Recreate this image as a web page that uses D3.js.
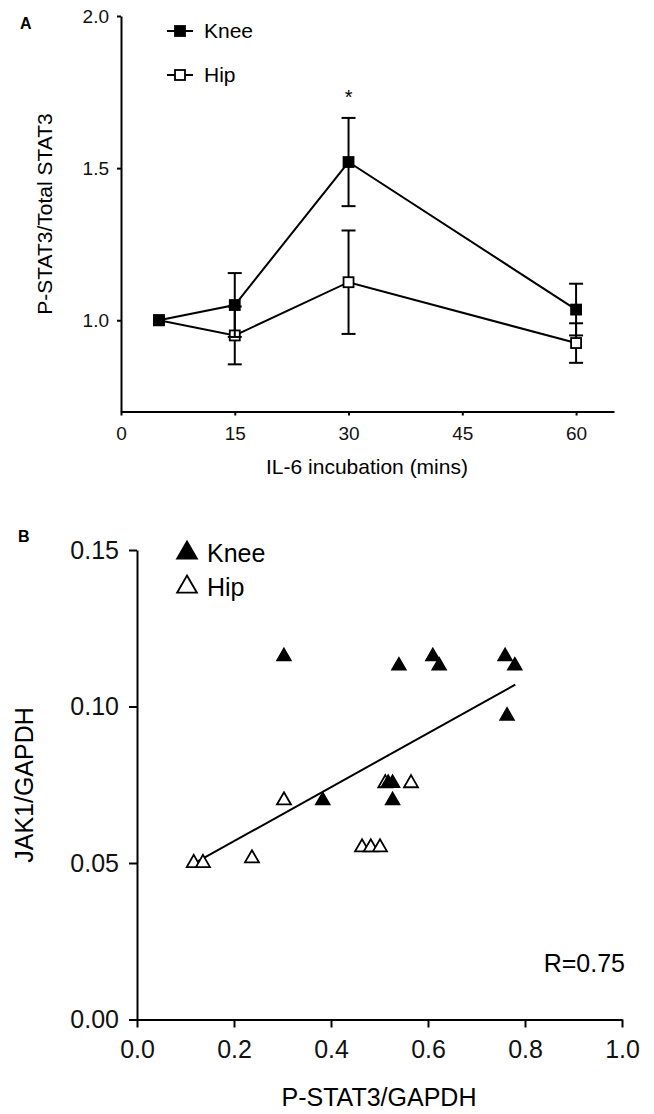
<!DOCTYPE html>
<html>
<head>
<meta charset="utf-8">
<script src="https://cdn.jsdelivr.net/npm/d3@7"></script>
<style>
    body { margin: 0; background: #fff; }
    svg { display: block; font-family: "Liberation Sans", Arial, sans-serif; }
    .axis path, .axis line { stroke: #000; stroke-width: 2; }
    .axis text { fill: #111; }
</style>
</head>
<body>
<svg></svg>
<script>
// panel A: time course
const timePoints = [5, 15, 30, 60];
const kneeMean = [1.0, 1.05, 1.52, 1.035];
const kneeErr = [0, 0.105, 0.145, 0.085];
const hipMean = [1.0, 0.95, 1.125, 0.925];
const hipErr = [0, 0.095, 0.17, 0.065];
const timeTicks = [0, 15, 30, 45, 60];
const ratioTicks = [1.0, 1.5, 2.0];
const sigTimes = [30];

// panel B: correlation
const kneeX = [0.303, 0.383, 0.518, 0.527, 0.527, 0.540, 0.610, 0.623, 0.759, 0.779, 0.763];
const kneeY = [0.116, 0.070, 0.0755, 0.0755, 0.070, 0.113, 0.116, 0.113, 0.116, 0.113, 0.097];
const hipX = [0.117, 0.136, 0.237, 0.303, 0.464, 0.482, 0.501, 0.512, 0.565];
const hipY = [0.050, 0.050, 0.0515, 0.070, 0.055, 0.055, 0.055, 0.0755, 0.0755];
const fitX = [0.125, 0.78];
const fitY = [0.0505, 0.107];
const stat3Ticks = [0, 0.2, 0.4, 0.6, 0.8, 1.0];
const jakTicks = [0, 0.05, 0.10, 0.15];
const rLabel = "R=0.75";

const width = 654;
const height = 1114;
let svg = d3.select("svg").attr("width", width).attr("height", height);

function drawPanelA() {
    let g = svg.append("g");
    let scX = d3.scaleLinear().domain([0, 65]).range([121, 614]);
    let scY = d3.scaleLinear().domain([0.7, 2.0]).range([411.5, 16]);

    g.append("g").attr("class", "axis")
        .attr("transform", "translate(0, 411.5)")
        .call(d3.axisBottom(scX).tickValues(timeTicks).tickSize(4).tickSizeOuter(0).tickPadding(11))
        .selectAll("text").style("font-size", "19px");

    g.append("g").attr("class", "axis")
        .attr("transform", "translate(121, 0)")
        .call(d3.axisLeft(scY).tickValues(ratioTicks).tickFormat(d3.format(".1f")).tickSize(4).tickSizeOuter(0).tickPadding(8))
        .selectAll("text").style("font-size", "19px");

    g.append("text").attr("x", 20).attr("y", 29)
        .style("font-weight", "bold").style("font-size", "16px").text("A");

    g.append("text").attr("transform", "translate(52, 214) rotate(-90)")
        .attr("text-anchor", "middle").style("font-size", "21px").text("P-STAT3/Total STAT3");

    g.append("text").attr("x", 367).attr("y", 474)
        .attr("text-anchor", "middle").style("font-size", "21px").text("IL-6 incubation (mins)");

    // hip first so knee error bars cross over the open squares
    drawSeries(g, hipMean, hipErr, scX, scY, "#fff");
    drawSeries(g, kneeMean, kneeErr, scX, scY, "#000");

    g.selectAll(".star").data(sigTimes).enter().append("text").attr("class", "star")
        .attr("x", d => scX(d))
        .attr("y", d => scY(kneeMean[timePoints.indexOf(d)] + kneeErr[timePoints.indexOf(d)]) - 14)
        .attr("text-anchor", "middle").style("font-size", "20px").text("*");

    // legend
    let legend = [["Knee", "#000", 31], ["Hip", "#fff", 75]];
    legend.forEach(([name, fill, y]) => {
        g.append("line").attr("x1", 167).attr("x2", 193).attr("y1", y).attr("y2", y)
            .attr("stroke", "#000").attr("stroke-width", 2);
        g.append("rect").attr("x", 175).attr("y", y - 5).attr("width", 10).attr("height", 10)
            .attr("fill", fill).attr("stroke", "#000").attr("stroke-width", 1.8);
        g.append("text").attr("x", 204).attr("y", y + 7).style("font-size", "21px").text(name);
    });
}

function drawSeries(g, means, errs, scX, scY, fill) {
    let data = timePoints.map((t, i) => ({t: t, m: means[i], e: errs[i]}));
    let line = d3.line().x(d => scX(d.t)).y(d => scY(d.m));

    g.append("path").datum(data).attr("d", line)
        .attr("fill", "none").attr("stroke", "#000").attr("stroke-width", 2);

    let bars = data.filter(d => d.e > 0);
    g.selectAll(null).data(bars).enter().append("line")
        .attr("x1", d => scX(d.t)).attr("x2", d => scX(d.t))
        .attr("y1", d => scY(d.m - d.e)).attr("y2", d => scY(d.m + d.e))
        .attr("stroke", "#000").attr("stroke-width", 2);
    [-1, 1].forEach(s => {
        g.selectAll(null).data(bars).enter().append("line")
            .attr("x1", d => scX(d.t) - 7).attr("x2", d => scX(d.t) + 7)
            .attr("y1", d => scY(d.m + s * d.e)).attr("y2", d => scY(d.m + s * d.e))
            .attr("stroke", "#000").attr("stroke-width", 2);
    });

    g.selectAll(null).data(data).enter().append("rect")
        .attr("x", d => scX(d.t) - 5).attr("y", d => scY(d.m) - 5)
        .attr("width", 10).attr("height", 10)
        .attr("fill", fill).attr("stroke", "#000").attr("stroke-width", 1.8);
}

function drawPanelB() {
    let g = svg.append("g");
    let scX = d3.scaleLinear().domain([0, 1]).range([137, 622]);
    let scY = d3.scaleLinear().domain([0, 0.15]).range([1019.5, 550]);

    g.append("g").attr("class", "axis")
        .attr("transform", "translate(0, 1019.5)")
        .call(d3.axisBottom(scX).tickValues(stat3Ticks).tickFormat(d3.format(".1f")).tickSize(8).tickSizeOuter(0).tickPadding(13))
        .selectAll("text").style("font-size", "25px");

    g.append("g").attr("class", "axis")
        .attr("transform", "translate(137, 0)")
        .call(d3.axisLeft(scY).tickValues(jakTicks).tickFormat(d3.format(".2f")).tickSize(8).tickSizeOuter(0).tickPadding(10))
        .selectAll("text").style("font-size", "25px");

    g.append("text").attr("x", 18).attr("y", 542)
        .style("font-weight", "bold").style("font-size", "16px").text("B");

    g.append("text").attr("transform", "translate(33, 785) rotate(-90)")
        .attr("text-anchor", "middle").style("font-size", "25px").text("JAK1/GAPDH");

    g.append("text").attr("x", 379).attr("y", 1106)
        .attr("text-anchor", "middle").style("font-size", "25px").text("P-STAT3/GAPDH");

    let fit = fitX.map((x, i) => [x, fitY[i]]);
    g.append("path").datum(fit)
        .attr("d", d3.line().x(d => scX(d[0])).y(d => scY(d[1])))
        .attr("stroke", "#000").attr("stroke-width", 2).attr("fill", "none");

    let tri = d3.symbol().type(d3.symbolTriangle).size(85);
    let hip = hipX.map((x, i) => [x, hipY[i]]);
    let knee = kneeX.map((x, i) => [x, kneeY[i]]);

    g.selectAll(".hip").data(hip).enter().append("path").attr("class", "hip")
        .attr("d", tri).attr("transform", d => `translate(${scX(d[0])}, ${scY(d[1])})`)
        .attr("fill", "#fff").attr("stroke", "#000").attr("stroke-width", 1.8);
    g.selectAll(".knee").data(knee).enter().append("path").attr("class", "knee")
        .attr("d", tri).attr("transform", d => `translate(${scX(d[0])}, ${scY(d[1])})`)
        .attr("fill", "#000").attr("stroke", "#000").attr("stroke-width", 1.5);

    // legend
    let legTri = d3.symbol().type(d3.symbolTriangle).size(170);
    let legend = [["Knee", "#000", 553], ["Hip", "#fff", 587]];
    legend.forEach(([name, fill, y]) => {
        g.append("path").attr("d", legTri).attr("transform", `translate(187, ${y})`)
            .attr("fill", fill).attr("stroke", "#000").attr("stroke-width", 1.8);
        g.append("text").attr("x", 207).attr("y", y + 9).style("font-size", "25px").text(name);
    });

    g.append("text").attr("x", 625).attr("y", 972)
        .attr("text-anchor", "end").style("font-size", "25px").text(rLabel);
}

drawPanelA();
drawPanelB();
</script>
</body>
</html>
